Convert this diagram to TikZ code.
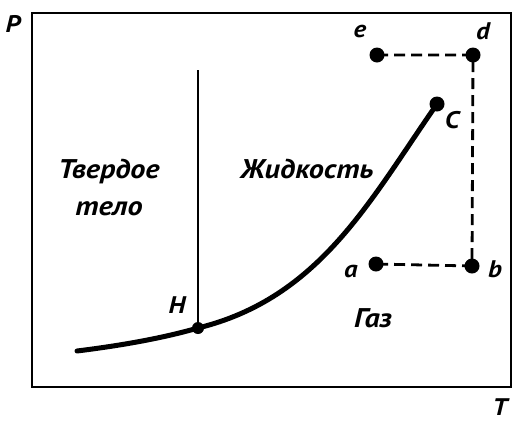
\documentclass[tikz,border=0pt]{standalone}
\usepackage{fontspec}
\setmainfont{PT Sans}
\newfontfamily\wideital[FakeStretch=1.12]{PT Sans}
\begin{document}
\begin{tikzpicture}[x=1pt,y=-1pt,
  lbl/.style={font=\fontsize{24}{24}\selectfont\wideital\bfseries\itshape, inner sep=0pt},
  region/.style={font=\fontsize{27}{37}\selectfont\wideital\bfseries\itshape, inner sep=0pt, align=center},
  pt/.style={circle, fill=black, inner sep=0pt, minimum size=15pt},
  dashline/.style={line width=2.8pt, dash pattern=on 11pt off 6pt}]
\useasboundingbox (0,0) rectangle (513,424);
% frame
\draw[line width=2.8pt] (32,13) rectangle (511,387);
% points
\node[pt] (e) at (377,55) {};
\node[pt] (d) at (473,55) {};
\node[pt] (c) at (437,104) {};
\node[pt] (b) at (472,266) {};
\node[pt] (a) at (376,264) {};
\node[circle, fill=black, inner sep=0pt, minimum size=12pt] (h) at (198,328) {};
\coordinate (top) at (198,70);
\coordinate (start) at (77,351);
% lines
\draw[line width=1.8pt] (h.center) -- (top);
\draw[line width=5pt, line cap=round] (start) .. controls (133,344) and (170,336) .. (h.center)
  .. controls (320,298) and (370,200) .. (c.center);
\draw[dashline] (e.center) -- (d.center) -- (b.center) -- (a.center);
% labels
\node[lbl] (lp) at (13,24) {Р};
\node[lbl] (lt) at (500,407) {Т};
\node[lbl] (le) at (360,31) {е};
\node[lbl] (ld) at (483,31) {d};
\node[lbl] (lc) at (452,120) {С};
\node[lbl] (la) at (351,271) {а};
\node[lbl] (lb) at (495,269) {b};
\node[lbl] (lh) at (177,305) {Н};
\node[region] (solid) at (109,187) {Твердое\\тело};
\node[region] (liquid) at (307,169) {Жидкость};
\node[region] (gas) at (373,318) {Газ};
\end{tikzpicture}
\end{document}
